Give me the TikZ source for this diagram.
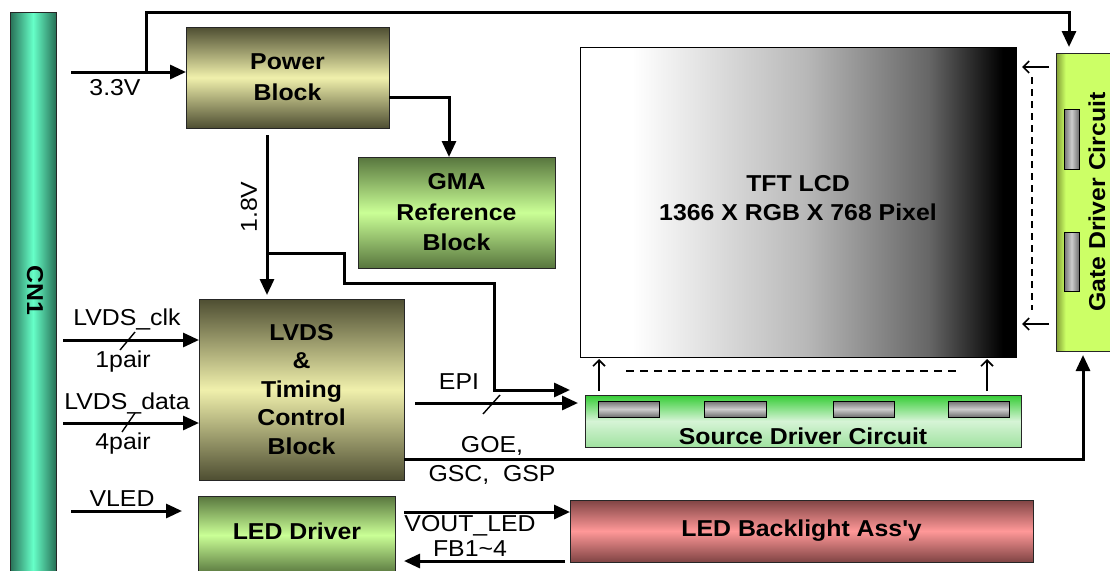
\documentclass[tikz,border=0pt]{standalone}
\usepackage{fontspec}
\setmainfont{Liberation Sans}[FakeStretch=1.08]
\usetikzlibrary{arrows.meta,calc}
\definecolor{cndark}{RGB}{40,112,86}
\definecolor{cnlight}{RGB}{102,255,200}
\definecolor{olvdark}{RGB}{78,78,50}
\definecolor{olvlight}{RGB}{240,240,172}
\definecolor{grndark}{RGB}{88,118,62}
\definecolor{grnlight}{RGB}{202,255,150}
\definecolor{srctop}{RGB}{52,204,52}
\definecolor{srcmid}{RGB}{214,244,214}
\definecolor{srcbot}{RGB}{160,226,160}
\definecolor{blkdark}{RGB}{128,68,68}
\definecolor{blklight}{RGB}{255,152,152}
\definecolor{limedark}{RGB}{128,156,52}
\definecolor{lime}{RGB}{204,255,102}
\definecolor{chipdark}{RGB}{112,112,112}
\definecolor{chiplight}{RGB}{205,205,205}
\pgfdeclarehorizontalshading{tftshade}{100bp}{color(0bp)=(white); color(31bp)=(white); color(51bp)=(black!28); color(65bp)=(black!60); color(73.5bp)=(black); color(100bp)=(black)}
\pgfdeclarehorizontalshading{gateshade}{100bp}{color(0bp)=(limedark); color(25bp)=(limedark); color(33bp)=(lime); color(100bp)=(lime)}
\tikzset{
  box/.style={draw=black!85, line width=0.9pt, inner sep=0pt, outer sep=0pt, anchor=north west},
  blk/.style={font=\fontsize{23}{#1}\selectfont\bfseries, align=center},
  blk/.default=30,
  lab/.style={font=\fontsize{23}{26}\selectfont, inner sep=0pt},
  cnsh/.style={left color=cndark, right color=cndark, middle color=cnlight},
  olvsh/.style={top color=olvdark, bottom color=olvdark, middle color=olvlight},
  grnsh/.style={top color=grndark, bottom color=grndark, middle color=grnlight},
  srcsh/.style={top color=srctop, bottom color=srcbot, middle color=srcmid},
  blsh/.style={top color=blkdark, bottom color=blkdark, middle color=blklight},
  chipv/.style={box, draw=black, line width=1pt, top color=chipdark, bottom color=chipdark, middle color=chiplight},
  chiph/.style={box, draw=black, line width=1pt, left color=chipdark, right color=chipdark, middle color=chiplight},
  conn/.style={line width=3pt, black},
  arr/.style={conn, -{Triangle[length=16pt,width=14pt]}},
  thinarr/.style={line width=1.6pt, -{Straight Barb[length=6pt,width=12pt]}},
  slash/.style={line width=1.4pt},
  dsh/.style={line width=1.4pt, dash pattern=on 8pt off 6pt}
}
\begin{document}
\begin{tikzpicture}[x=1pt,y=-1pt]
\clip (0,0) rectangle (1110,570);
\fill[white] (0,0) rectangle (1110,570);

% blocks
\node[box, cnsh, minimum width=46, minimum height=570] (cn) at (10,12) {};
\node[lab, font=\fontsize{23}{26}\selectfont\bfseries, rotate=-90] (cnlab) at (35,290) {CN1};

\node[box, olvsh, blk=31, minimum width=203, minimum height=101] (power) at (186,27) {Power\\Block};
\node[box, grnsh, blk=30.5, minimum width=197, minimum height=111] (gma) at (358,157) {GMA\\Reference\\Block};
\node[box, olvsh, blk=28.5, minimum width=205, minimum height=181] (lvds) at (199,299) {LVDS\\\&\\Timing\\Control\\Block};
\node[box, grnsh, minimum width=197, minimum height=78] (led) at (198,496) {};
\node[blk, inner sep=0pt] (ledtxt) at (297,531) {LED Driver};

\node[box, draw=black, line width=1pt, shading=tftshade, minimum width=436, minimum height=310] (tft) at (580,47) {};
\node[blk=29, inner sep=0pt] (tfttxt) at (798,198) {TFT LCD\\1366 X RGB X 768 Pixel};

\node[box, shading=gateshade, minimum width=60, minimum height=298] (gate) at (1056,53) {};
\node[chiph, minimum width=15, minimum height=60] (gc1) at (1064,109) {};
\node[chiph, minimum width=15, minimum height=59] (gc2) at (1064,232) {};
\node[blk, inner sep=0pt, rotate=90] (gatetxt) at (1097,202) {Gate Driver Circuit};

\node[box, srcsh, minimum width=436, minimum height=52] (src) at (585,395) {};
\node[chipv, minimum width=61, minimum height=16] (sc1) at (598,401) {};
\node[chipv, minimum width=62, minimum height=16] (sc2) at (704,401) {};
\node[chipv, minimum width=61, minimum height=16] (sc3) at (833,401) {};
\node[chipv, minimum width=61, minimum height=16] (sc4) at (948,401) {};
\node[blk, inner sep=0pt] (srctxt) at (803,436) {Source Driver Circuit};

\node[box, blsh, blk, minimum width=463, minimum height=62] (bl) at (570,500) {LED Backlight Ass\textquotesingle y};

% coordinates
\coordinate (in33) at (71,72);
\coordinate (br33) at (146,72);
\coordinate (gtop) at (1069,53);
\coordinate (pgm) at (449,97);
\coordinate (p18) at (267,135);
\coordinate (b18) at (267,253);
\coordinate (epiend) at (570,390);
\coordinate (epistart) at (415,403);
\coordinate (goe) at (1083,459);
\coordinate (clk) at (63,340);
\coordinate (dat) at (63,423);
\coordinate (vled) at (71,511);
\coordinate (vout) at (404,512);
\coordinate (fbend) at (404,561);

% connectors
\draw[arr] (in33) -- (in33 -| power.west);
\draw[arr, shorten >=6pt] (br33) |- (gtop |- 0,12) -- (gtop);
\draw[arr] (power.east |- pgm) -| (pgm |- gma.north);
\draw[arr, shorten >=4pt] (p18) -- (p18 |- lvds.north);
\draw[arr] (b18) -- (344,253) -- (344,283) -- (494,283) |- (epiend);
\draw[arr, shorten >=7pt] (epistart) -- (epistart -| src.west);
\draw[arr, shorten >=4pt] (lvds.east |- goe) -| (goe |- gate.south);
\draw[arr] (clk) -- (clk -| lvds.west);
\draw[arr] (dat) -- (dat -| lvds.west);
\draw[arr, shorten >=16pt] (vled) -- (vled -| led.west);
\draw[arr] (vout) -- (vout -| bl.west);
\draw[arr] (bl.west |- fbend) ++(-5,0) -- (fbend);

% bus slashes
\draw[slash] (120,350) -- (135,332);
\draw[slash] (122,432) -- (135,413);
\draw[slash] (483,414) -- (500,395);

% panel drive arrows
\draw[thinarr] (599,391) -- (599,359);
\draw[thinarr] (987,391) -- (987,359);
\draw[dsh] (626,371) -- (957,371);
\draw[line width=1.1pt, dash pattern=on 7pt off 5pt] (1032,77) -- (1032,310);
\draw[thinarr] (1049,67) -- (1022,67);
\draw[thinarr] (1049,324) -- (1022,324);

% labels
\node[lab] (l33) at (115,88) {3.3V};
\node[lab, rotate=90] (l18) at (249,207) {1.8V};
\node[lab] (lclk) at (127,319) {LVDS\_clk};
\node[lab] (lp1) at (123,362) {1pair};
\node[lab] (ldat) at (127,403) {LVDS\_data};
\node[lab] (lp4) at (123,444) {4pair};
\node[lab] (lvled) at (122,499) {VLED};
\node[lab] (lepi) at (459,382) {EPI};
\node[lab] (lgoe) at (492,446) {GOE,};
\node[lab] (lgsc) at (492,475) {GSC,\ \ GSP};
\node[lab] (lvout) at (470,526) {VOUT\_LED};
\node[lab] (lfb) at (470,549) {FB1\textasciitilde 4};
\end{tikzpicture}
\end{document}
